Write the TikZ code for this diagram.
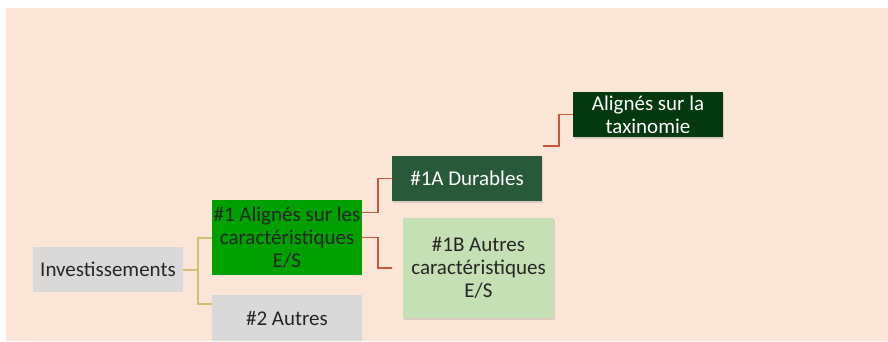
\documentclass[tikz,border=0pt]{standalone}
\usepackage{fontspec}
\setmainfont{Carlito}
\usepackage{xcolor}
\usepackage{tikz}
\usetikzlibrary{positioning,calc,shadows}
\definecolor{bgpeach}{RGB}{251,229,214}
\definecolor{boxgray}{RGB}{217,217,217}
\definecolor{esgreen}{RGB}{0,160,0}
\definecolor{durgreen}{RGB}{40,90,58}
\definecolor{taxgreen}{RGB}{4,56,14}
\definecolor{oesgreen}{RGB}{197,224,180}
\definecolor{linkred}{RGB}{196,89,60}
\definecolor{linktan}{RGB}{208,192,115}
\definecolor{textdark}{RGB}{38,38,38}

\begin{document}
\begin{tikzpicture}[
    x=1pt, y=-1pt,
    box/.style={rectangle, minimum width=150pt, minimum height=45pt, inner xsep=1pt, inner ysep=2pt, align=center, font=\fontsize{21}{23}\selectfont, text=textdark},
    shade box/.style={box, drop shadow={opacity=0.25, shadow xshift=1pt, shadow yshift=-2pt}},
    tanlink/.style={draw=linktan, line width=2pt},
    redlink/.style={draw=linkred, line width=1.8pt}
]
    % Canvas
    \useasboundingbox (0,0) rectangle (888,341);
    \fill[white] (0,0) rectangle (888,341);
    \fill[bgpeach] (6,8) rectangle (888,341);

    % Root and first level
    \node[box, fill=boxgray] (inv) at (108,269.5) {Investissements};
    \node[box, fill=esgreen, minimum height=75pt] (es) at (287,237.5) {\#1 Alignés sur les\\caractéristiques\\E/S};
    \node[box, fill=boxgray, minimum height=46pt] (oth) at (287,318) {\#2 Autres};

    % Second and third level
    \node[shade box, fill=durgreen, text=white] (dur) at (467,178.5) {\#1A Durables};
    \node[shade box, fill=oesgreen, minimum width=151pt, minimum height=100pt] (oes) at (478.5,268) {\#1B Autres\\caractéristiques\\E/S};
    \node[shade box, fill=taxgreen, text=white] (tax) at (648,114.5) {Alignés sur la\\taxinomie};

    % Connectors
    \coordinate (invfork) at (198,269.5);
    \coordinate (esfork) at (378,237.5);
    \coordinate (durtop) at (543,146);
    \draw[tanlink] (inv.east) -- (invfork) |- (es.west);
    \draw[tanlink] (invfork) |- ([yshift=14pt]oth.west);
    \draw[redlink] ([yshift=25pt]es.east) -- ($(esfork)+(0,-25)$) |- (dur.west);
    \draw[redlink, shorten >=11pt] (es.east) -- (esfork) |- (oes.west);
    \draw[redlink] (durtop) -- ++(16,0) |- (tax.west);
\end{tikzpicture}
\end{document}
